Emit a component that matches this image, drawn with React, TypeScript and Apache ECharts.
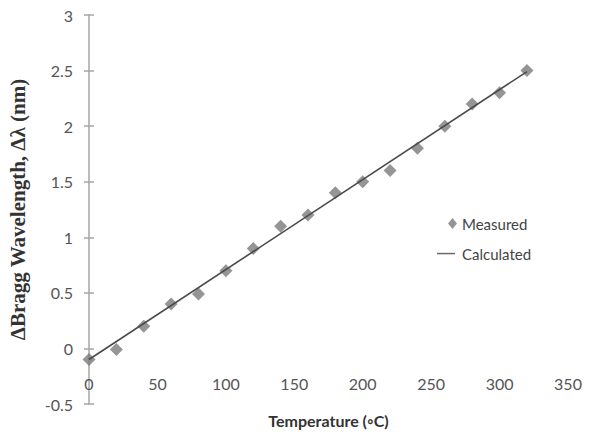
import React, { useEffect, useRef } from "react";
import * as echarts from "echarts";

const temperatures = [0, 20, 40, 60, 80, 100, 120, 140, 160, 180, 200, 220, 240, 260, 280, 300, 320];
const measured = [-0.1, -0.01, 0.2, 0.4, 0.49, 0.7, 0.9, 1.1, 1.2, 1.4, 1.5, 1.6, 1.8, 2.0, 2.2, 2.3, 2.5];
const calcTemps = [0, 320];
const calculated = [-0.1, 2.49];

const diamondIcon = "path://M0,0 L0,0 M15.5,0 L20,5.5 L15.5,11 L11,5.5 Z M20,11 L20,11";
const lineIcon = "path://M0,0 L0,0 M0,4.8 L18,4.8 L18,6.3 L0,6.3 Z M20,11 L20,11";

export default function App() {
  const ref = useRef<HTMLDivElement>(null);
  useEffect(() => {
    if (!ref.current) return;
    const chart = echarts.init(ref.current, null, { renderer: "svg" });
    const labelStyle = { fontFamily: "Lato", fontSize: 16, color: "#555555" };
    chart.setOption({
      animation: false,
      backgroundColor: "#ffffff",
      grid: {
        left: 89,
        right: 22,
        top: 15,
        bottom: 34,
        containLabel: false,
        outerBoundsMode: "none",
      },
      legend: {
        orient: "vertical",
        left: 432,
        top: 211,
        itemGap: 15,
        itemWidth: 20,
        itemHeight: 11,
        textStyle: { fontFamily: "Lato", fontSize: 15, color: "#444444" },
        data: [
          { name: "Measured", icon: diamondIcon, itemStyle: { color: "#7a7a7a" } },
          { name: "Calculated", icon: lineIcon, itemStyle: { color: "#6a6a6a" } },
        ],
      },
      xAxis: {
        type: "value",
        min: 0,
        max: 350,
        interval: 50,
        name: "Temperature (◦C)",
        nameLocation: "middle",
        nameGap: 8,
        nameTextStyle: { fontFamily: "Lato", fontSize: 16, fontWeight: "bold", color: "#333333" },
        axisLine: { show: false, onZero: false },
        axisTick: { show: false },
        splitLine: { show: false },
        axisLabel: { ...labelStyle, inside: true, margin: 13 },
      },
      yAxis: [
        {
          type: "value",
          min: -0.5,
          max: 3,
          interval: 0.5,
          name: "ΔBragg Wavelength, Δλ (nm)",
          nameLocation: "middle",
          nameGap: 61,
          nameRotate: 90,
          nameTextStyle: {
            fontFamily: "Liberation Serif",
            fontSize: 21,
            fontWeight: "bold",
            color: "#333333",
          },
          axisLine: { show: true, onZero: false, lineStyle: { color: "#a6a6a6", width: 1.5 } },
          axisTick: { show: true, length: 5, lineStyle: { color: "#a6a6a6", width: 1.5 } },
          splitLine: { show: false },
          axisLabel: { ...labelStyle, margin: 16 },
        },
        {
          type: "value",
          position: "left",
          min: -0.5,
          max: 3,
          interval: 0.5,
          axisLine: { show: false, onZero: false },
          axisTick: { show: true, inside: true, length: 5, lineStyle: { color: "#a6a6a6", width: 1.5 } },
          axisLabel: { show: false },
          splitLine: { show: false },
        },
      ],
      series: [
        {
          name: "Measured",
          type: "scatter",
          symbol: "diamond",
          symbolSize: 13,
          itemStyle: { color: "#7a7a7a" },
          data: temperatures.map((t, i) => [t, measured[i]]),
          z: 2,
        },
        {
          name: "Calculated",
          type: "line",
          symbol: "none",
          lineStyle: { color: "#4a4a4a", width: 1.6 },
          itemStyle: { color: "#4a4a4a" },
          data: calcTemps.map((t, i) => [t, calculated[i]]),
          z: 3,
        },
      ],
    });
    return () => chart.dispose();
  }, []);
  return <div ref={ref} style={{ width: 590, height: 438, position: "absolute", left: 0, top: 0 }} />;
}
